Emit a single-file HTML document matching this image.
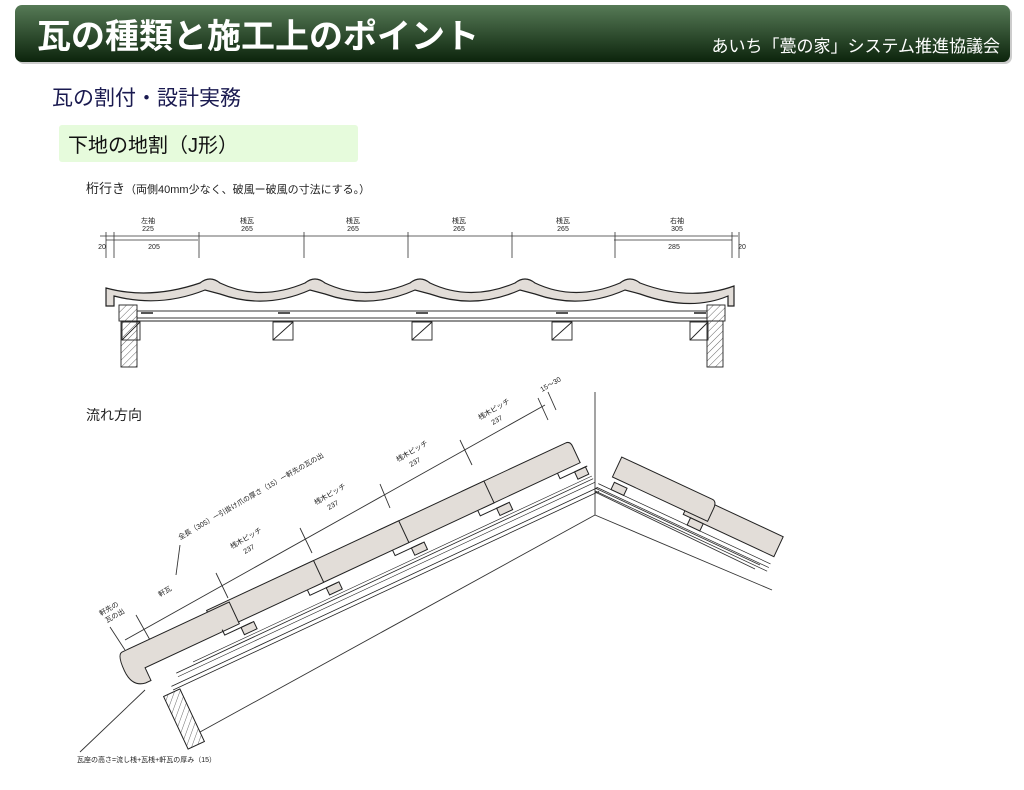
<!DOCTYPE html>
<html><head><meta charset="utf-8"><style>
body{margin:0;width:1024px;height:785px;background:#fff;overflow:hidden;font-family:"Liberation Sans","Noto Sans CJK JP",sans-serif}
</style></head><body>
<svg width="1024" height="785" viewBox="0 0 1024 785" xmlns="http://www.w3.org/2000/svg" font-family="Liberation Sans, Noto Sans CJK JP, sans-serif">
<defs>
<linearGradient id="hg" x1="0" y1="0" x2="0" y2="1"><stop offset="0" stop-color="#567a56"/><stop offset="1" stop-color="#0c240c"/></linearGradient>
<pattern id="hat" width="5" height="5" patternUnits="userSpaceOnUse" patternTransform="rotate(45)"><line x1="0" y1="0" x2="0" y2="5" stroke="#444" stroke-width="0.8"/></pattern>
</defs>
<rect x="17" y="7" width="995" height="57" rx="7" fill="#999" opacity="0.5"/>
<rect x="15" y="5" width="995" height="57" rx="7" fill="url(#hg)"/>
<text x="37" y="48" font-size="34" font-weight="bold" fill="#fff">瓦の種類と施工上のポイント</text>
<text x="1000" y="52" font-size="17" fill="#fff" text-anchor="end">あいち「甍の家」システム推進協議会</text>
<text x="52" y="105" font-size="21" fill="#1a1a50">瓦の割付・設計実務</text>
<rect x="59" y="125" width="299" height="37" rx="3" fill="#e6fbdc"/>
<text x="68" y="152" font-size="20" fill="#111">下地の地割（J形）</text>
<text x="86" y="193" font-size="13" fill="#222">桁行き<tspan font-size="11">（両側40mm少なく、破風ー破風の寸法にする。）</tspan></text>

<g stroke="#333" stroke-width="0.8" fill="none">
<line x1="100" y1="236" x2="738" y2="236"/>
<line x1="106" y1="240" x2="198" y2="240"/><line x1="614" y1="240" x2="732" y2="240"/>
<path d="M106 232V258M114 232V258M199 232V258M304 232V258M408 232V258M512 232V258M615 232V258M732 232V258M739 232V258"/>
</g>
<g font-size="7" fill="#222" text-anchor="middle">
<text x="148" y="223">左袖</text><text x="148" y="231">225</text>
<text x="247" y="223">桟瓦</text><text x="247" y="231">265</text>
<text x="353" y="223">桟瓦</text><text x="353" y="231">265</text>
<text x="459" y="223">桟瓦</text><text x="459" y="231">265</text>
<text x="563" y="223">桟瓦</text><text x="563" y="231">265</text>
<text x="677" y="223">右袖</text><text x="677" y="231">305</text>
<text x="154" y="249">205</text><text x="674" y="249">285</text>
<text x="102" y="249">20</text><text x="742" y="249">20</text>
</g>

<g stroke="#222" stroke-width="1.2" fill="#e2ddd8">
<path d="M106 288 Q150 300 200 283 Q210 275 220 283 Q260 302 305 283 Q315 275 325 283 Q365 302 410 283 Q420 275 430 283 Q470 302 515 283 Q525 275 535 283 Q575 302 620 283 Q630 275 640 283 Q690 302 734 286 L734 306 L728 306 L728 296 Q690 312 640 294 L625 290 Q580 310 535 294 L520 290 Q475 310 430 294 L415 290 Q370 310 325 294 L310 290 Q265 310 220 294 L205 290 Q160 308 114 296 L114 306 L106 306 Z"/>
</g>
<g stroke="#222" stroke-width="0.9" fill="none">
<rect x="137" y="311" width="570" height="7"/>
<line x1="137" y1="321" x2="707" y2="321"/>
<rect x="122" y="322" width="18" height="18"/><line x1="122" y1="340" x2="140" y2="322"/>
<rect x="273" y="322" width="20" height="18"/><line x1="273" y1="340" x2="293" y2="322"/>
<rect x="412" y="322" width="20" height="18"/><line x1="412" y1="340" x2="432" y2="322"/>
<rect x="552" y="322" width="20" height="18"/><line x1="552" y1="340" x2="572" y2="322"/>
<rect x="690" y="322" width="18" height="18"/><line x1="690" y1="340" x2="708" y2="322"/>
</g>
<g stroke="#222" stroke-width="0.9" fill="url(#hat)">
<rect x="119" y="305" width="18" height="16"/><rect x="121" y="321" width="16" height="46"/>
<rect x="707" y="305" width="18" height="16"/><rect x="707" y="321" width="16" height="46"/>
</g>
<g fill="#555"><rect x="141" y="312" width="12" height="2"/><rect x="278" y="312" width="12" height="2"/><rect x="416" y="312" width="12" height="2"/><rect x="556" y="312" width="12" height="2"/><rect x="694" y="312" width="12" height="2"/></g>

<text x="86" y="420" font-size="14" fill="#222">流れ方向</text>

<g stroke="#333" stroke-width="0.9" fill="none">
<line x1="595" y1="392" x2="595" y2="515"/>
<line x1="200" y1="732" x2="595" y2="515"/>
<line x1="595" y1="515" x2="772" y2="590"/>
<line x1="595" y1="488" x2="760" y2="565"/>
<line x1="595" y1="492" x2="755" y2="569"/>
<line x1="125" y1="640" x2="545" y2="405"/>
<path d="M110 627L125 650M136 615L150 640M216 573L228 598M300 528L312 553M380 484L390 508M460 440L472 465M538 398L548 420M548 392L556 410"/>
<line x1="176" y1="575" x2="180" y2="545"/>
<line x1="145" y1="690" x2="80" y2="752"/>
</g>
<g transform="translate(140,690) rotate(-25)" stroke="#222" stroke-width="1">
<line x1="40" y1="0" x2="500" y2="0" stroke-width="0.8"/>
<line x1="40" y1="4" x2="500" y2="4" stroke-width="0.6"/>
<line x1="60" y1="-3" x2="500" y2="-3" stroke-width="0.6"/>
<line x1="30" y1="10" x2="500" y2="10" stroke-width="0.8"/>
<line x1="30" y1="14" x2="500" y2="14" stroke-width="0.8"/>
<g fill="#e2ddd8">
<path d="M376 -44 H490 Q495 -44 495 -38 V-20 H390 Q376 -20 376 -26 Z"/>
<path d="M282 -44 H400 V-20 H296 Q282 -20 282 -26 Z"/>
<path d="M188 -44 H306 V-20 H202 Q188 -20 188 -26 Z"/>
<path d="M94 -44 H212 V-20 H108 Q94 -20 94 -26 Z"/>
<path d="M0 -42 H118 V-18 H14 V-4 H8 Q-6 -6 -6 -24 Q-6 -42 0 -42 Z"/>
</g>
<g fill="#e2ddd8"><rect x="118" y="-14" width="14" height="8"/><rect x="212" y="-14" width="14" height="8"/><rect x="306" y="-14" width="14" height="8"/><rect x="400" y="-14" width="14" height="8"/><rect x="486" y="-14" width="12" height="8"/></g>
<path d="M100 -20 V-14 H130 M194 -20 V-14 H224 M288 -20 V-14 H318 M382 -20 V-14 H412 M470 -20 V-14 H500" fill="none"/>
</g>
<rect x="175" y="690" width="18" height="58" fill="url(#hat)" stroke="#222" transform="rotate(-25 184 719)"/>

<g transform="translate(600,480) rotate(25)" stroke="#222" stroke-width="1">
<line x1="0" y1="4" x2="190" y2="4" stroke-width="0.7"/>
<line x1="0" y1="8" x2="190" y2="8" stroke-width="0.7"/>
<line x1="0" y1="12" x2="190" y2="12" stroke-width="0.7"/>
<g fill="#e2ddd8">
<path d="M90 -26 H190 V-4 H90 Z"/>
<path d="M10 -30 H110 Q115 -30 115 -22 V-8 H10 Z"/>
<rect x="14" y="-4" width="14" height="8"/><rect x="98" y="-4" width="14" height="8"/>
</g>
</g>

<g font-size="7" fill="#222">
<text x="77" y="762">瓦座の高さ=流し桟+瓦桟+軒瓦の厚み（15）</text>
<text transform="translate(180,540) rotate(-30)">全長（305）ー引掛け爪の厚さ（15）ー軒先の瓦の出</text>
<text transform="translate(160,597) rotate(-30)">軒瓦</text>
<text transform="translate(101,616) rotate(-30)">軒先の</text>
<text transform="translate(107,623) rotate(-30)">瓦の出</text>
<text transform="translate(232,549) rotate(-30)">桟木ピッチ</text><text transform="translate(245,554) rotate(-30)">237</text>
<text transform="translate(316,505) rotate(-30)">桟木ピッチ</text><text transform="translate(329,510) rotate(-30)">237</text>
<text transform="translate(398,462) rotate(-30)">桟木ピッチ</text><text transform="translate(411,467) rotate(-30)">237</text>
<text transform="translate(480,420) rotate(-30)">桟木ピッチ</text><text transform="translate(493,425) rotate(-30)">237</text>
<text transform="translate(542,392) rotate(-30)">15～30</text>
</g>
</svg>
</body></html>
